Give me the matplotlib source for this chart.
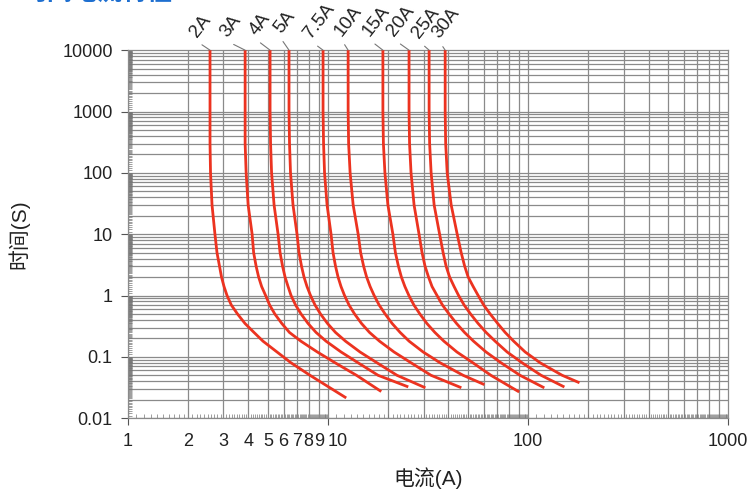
import numpy as np
from matplotlib import pyplot as plt
from matplotlib.ticker import FixedLocator, NullFormatter

plt.rcParams['font.family'] = ['Liberation Sans', 'Noto Sans CJK SC']

ratings = ["2A", "3A", "4A", "5A", "7.5A", "10A", "15A", "20A", "25A", "30A"]

# time levels (s) read on every curve; each curve then has its own end point
t_levels = [10000, 1000, 300, 100, 30, 10, 5, 3, 2, 1.4, 1, 0.7, 0.5, 0.35, 0.25,
            0.18, 0.12, 0.08, 0.05]

# current (A) of each curve at those time levels, last value = curve end
i_2a = [2.57, 2.57, 2.57, 2.585, 2.63, 2.72, 2.785, 2.867, 2.934, 3.02, 3.126, 3.284,
        3.527, 3.845, 4.265, 4.731, 5.558, 6.53, 8.127, 12.16]
i_3a = [3.85, 3.85, 3.85, 3.895, 3.985, 4.173, 4.246, 4.37, 4.498, 4.656, 4.875, 5.105,
        5.419, 5.874, 6.413, 7.319, 8.84, 10.85, 13.88, 18.2]
i_4a = [5.13, 5.13, 5.16, 5.22, 5.372, 5.625, 5.756, 5.924, 6.097, 6.311, 6.533, 6.88,
        7.33, 7.945, 8.712, 9.775, 11.62, 14.13, 17.79, 24.8]
i_5a = [6.38, 6.38, 6.417, 6.491, 6.68, 6.996, 7.158, 7.368, 7.583, 7.849, 8.173, 8.607,
        9.169, 9.938, 10.9, 12.23, 14.45, 17.57, 22.12, 30.2]
i_75a = [9.44, 9.44, 9.495, 9.604, 9.885, 10.35, 10.59, 10.9, 11.22, 11.61, 12.09, 12.73,
         13.57, 14.7, 16.12, 18.09, 21.38, 26.0, 32.73, 45.7]
i_10a = [12.6, 12.6, 12.67, 12.89, 13.35, 14.14, 14.55, 15.06, 15.59, 16.23, 17.0, 18.0,
         19.29, 20.91, 22.93, 25.43, 29.88, 36.34, 47.36, 59.6]
i_15a = [18.8, 18.8, 18.91, 19.24, 19.91, 21.09, 21.71, 22.48, 23.26, 24.22, 25.36, 26.86,
         28.78, 31.2, 34.21, 37.95, 44.07, 52.99, 65.19, 89.0]
i_20a = [25.4, 25.4, 25.55, 25.99, 26.91, 28.5, 29.5, 30.54, 31.79, 33.1, 35.06, 37.31,
         40.26, 43.89, 48.12, 53.37, 61.64, 73.25, 91.17, 118.8]
i_25a = [32.0, 32.0, 32.19, 32.75, 33.9, 36.11, 37.6, 38.92, 40.52, 42.67, 44.94, 47.88,
         51.57, 56.25, 61.68, 68.42, 78.55, 93.36, 116.2, 149.7]
i_30a = [38.5, 38.5, 38.72, 39.4, 41.25, 44.21, 46.29, 48.19, 50.17, 53.15, 56.29, 59.97,
         64.63, 70.46, 76.82, 84.72, 96.71, 114.9, 148.1, 178.0]

# time (s) at the lower end of each curve
t_end = [0.022, 0.028, 0.033, 0.032, 0.032, 0.036, 0.0275, 0.032, 0.033, 0.0386]

currents = [i_2a, i_3a, i_4a, i_5a, i_75a, i_10a, i_15a, i_20a, i_25a, i_30a]

# label centre offsets (pixels) from the top of each curve
lab_dx = [-9, -14, -10, -4, -4, 0, -7, -8, -3, 1]
lab_dy = [24, 24, 26, 28, 29, 29, 29, 29, 27, 27]

fig = plt.figure(figsize=(7.53, 4.92), dpi=100)
ax = fig.add_axes([0.170, 0.150, 0.797, 0.748])
ax.set_xscale('log')
ax.set_yscale('log')
ax.set_xlim(1, 1000)
ax.set_ylim(0.01, 10000)

# grid
for d in [1, 10, 100]:
    for s in range(1, 10):
        ax.axvline(d * s, color='#8a8a8a', lw=0.9, zorder=1)
for d in [0.01, 0.1, 1, 10, 100, 1000]:
    for s in range(1, 10):
        ax.axhline(d * s, color='#8a8a8a', lw=0.9, zorder=1)

red = '#ec3320'
for i, te, lab, dx, dy in zip(currents, t_end, ratings, lab_dx, lab_dy):
    t = t_levels + [te]
    ax.plot(i, t, color=red, lw=2, solid_joinstyle='round', zorder=3)
    ax.annotate(lab, xy=(i[0], t[0]), xytext=(dx, dy), textcoords='offset pixels',
                ha='center', va='center', rotation=52, fontsize=13.5, color='#222222',
                annotation_clip=False,
                arrowprops=dict(arrowstyle='-', color='#777777', lw=0.8,
                                relpos=(0.3, 0), shrinkA=2, shrinkB=0))

xt = [1, 2, 3, 4, 5, 6, 7, 8, 9, 10, 100, 1000]
ax.set_xticks(xt)
ax.set_xticklabels([str(v) for v in xt])
yt = [0.01, 0.1, 1, 10, 100, 1000, 10000]
ax.set_yticks(yt)
ax.set_yticklabels(['0.01', '0.1', '1', '10', '100', '1000', '10000'])
ax.tick_params(which='major', direction='out', length=5, width=0.8, color='#555555',
               labelsize=13, labelcolor='#222222', pad=6)
for tk in ax.xaxis.get_major_ticks()[1:9]:
    tk.tick1line.set_visible(False)
# the "10" label sits just right of its tick, as in the original
ax.get_xticklabels()[9].set_horizontalalignment('left')

fine = [d * s for d in [0.01, 0.1, 1, 10, 100, 1000] for s in np.arange(1.1, 10, 0.1)]
ax.xaxis.set_minor_locator(FixedLocator([v for v in fine if 1 < v < 1000]))
ax.yaxis.set_minor_locator(FixedLocator([v for v in fine if 0.01 < v < 10000]))
ax.xaxis.set_minor_formatter(NullFormatter())
ax.yaxis.set_minor_formatter(NullFormatter())
ax.tick_params(which='minor', direction='in', length=3, width=0.5, color='#777777')

for sp in ax.spines.values():
    sp.set_color('#8a8a8a')
    sp.set_linewidth(0.9)

ax.set_xlabel('电流(A)', fontsize=15, color='#222222', labelpad=12)
ax.set_ylabel('时间(S)', fontsize=15, color='#222222', labelpad=24)

fig.text(0.03, 1.014, '时间电流特性', color='#1e6fd0', fontsize=18,
         va='center', ha='left', fontweight='bold')

fig.savefig('out.png', dpi=100)
